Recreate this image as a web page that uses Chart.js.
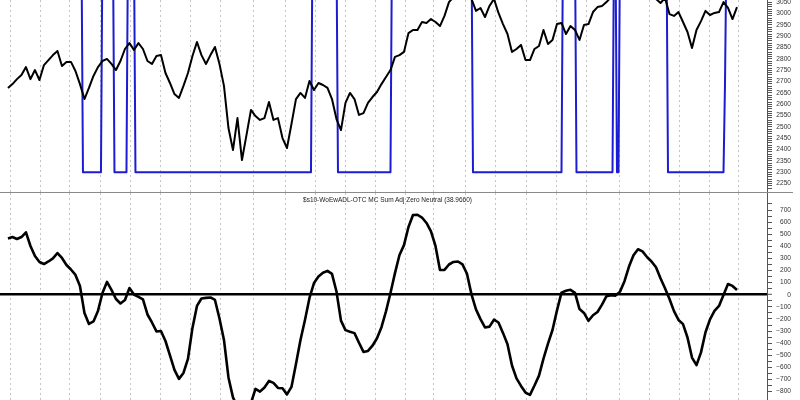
<!DOCTYPE html>
<html>
<head>
<meta charset="utf-8">
<script src="https://cdn.jsdelivr.net/npm/chart.js@4.4.1/dist/chart.umd.min.js"></script>
<style>
  body { margin: 0; background: #fff; }
  #wrap { position: relative; width: 800px; height: 400px; overflow: hidden; }
  #top { position: absolute; left: 0; top: 0; }
  #sep { position: absolute; left: 0; top: 192px; width: 793px; height: 1px; background: #8a8a8a; }
  #bot { position: absolute; left: 0; top: 193px; }
  #osc-title {
    position: absolute; left: 4px; top: 196px; width: 767px; text-align: center;
    font: 6.5px/7px "Liberation Sans", Arial, sans-serif; color: #222; white-space: nowrap;
  }
</style>
</head>
<body>
<div id="wrap">
  <canvas id="top" width="800" height="192"></canvas>
  <div id="sep"></div>
  <canvas id="bot" width="800" height="207"></canvas>
  <div id="osc-title">$s10-WoEwADL-OTC MC Sum Adj Zero Neutral (38.9660)</div>
</div>
<script>
// index close, sampled every 3 trading days
const price = [
  2672, 2689, 2711, 2729, 2764, 2711, 2751, 2707, 2773, 2795,
  2817, 2835, 2769, 2787, 2787, 2747, 2689, 2623, 2672, 2725,
  2764, 2791, 2800, 2778, 2751, 2791, 2844, 2870, 2840, 2870,
  2844, 2791, 2778, 2813, 2817, 2738, 2694, 2645, 2628, 2681,
  2738, 2813, 2875, 2817, 2778, 2817, 2853, 2778, 2681, 2495,
  2398, 2539, 2354, 2464, 2575, 2548, 2531, 2539, 2610, 2531,
  2539, 2451, 2407, 2513, 2623, 2650, 2628, 2703, 2663, 2694,
  2685, 2672, 2623, 2535, 2486, 2606, 2650, 2623, 2553, 2561,
  2606, 2632, 2654, 2689, 2720, 2751, 2809, 2817, 2831, 2914,
  2928, 2928, 2963, 2959, 2976, 2963, 2945, 2990, 3051, 3073,
  3087, 3095, 3087, 3065, 3012, 3025, 2985, 3034, 3065, 3003,
  2954, 2910, 2831, 2844, 2862, 2795, 2795, 2844, 2857, 2928,
  2866, 2884, 2954, 2959, 2910, 2945, 2928, 2884, 2950, 2954,
  3007, 3029, 3034, 3051, 3073, 3087, 3100, 3113, 3104, 3122,
  3113, 3100, 3091, 3078, 3065, 3047, 3069, 2998, 2990, 3007,
  2963, 2919, 2848, 2928, 2967, 3012, 2994, 3003, 3007, 3051,
  3025, 2976, 3029
];

// $s10-WoEwADL-OTC MC Sum Adj Zero Neutral
const osc = [
  465, 477, 461, 477, 516, 403, 320, 271, 254, 275,
  300, 345, 304, 246, 209, 164, 73, -150, -241, -220,
  -134, 15, 106, 40, -35, -72, -43, 56, 2, -18,
  -39, -163, -229, -303, -299, -382, -501, -621, -695, -646,
  -530, -274, -92, -31, -26, -22, -43, -196, -373, -683,
  -848, -927, -993, -984, -894, -778, -800, -766, -712, -728,
  -770, -772, -823, -761, -571, -373, -208, -26, 97, 151,
  182, 197, 172, 27, -214, -292, -305, -317, -396, -472,
  -464, -421, -359, -268, -137, 15, 179, 329, 410, 560,
  659, 661, 638, 593, 524, 403, 205, 205, 250, 271,
  275, 251, 174, 3, -121, -201, -270, -263, -206, -229,
  -315, -408, -584, -691, -753, -808, -827, -750, -668, -528,
  -403, -291, -129, 18, 33, 41, 16, -118, -150, -215,
  -169, -142, -82, -12, -3, -7, 26, 112, 233, 327,
  376, 358, 312, 275, 227, 136, 54, -35, -135, -208,
  -243, -353, -519, -581, -476, -310, -203, -134, -92, -2,
  89, 73, 39
];

const days = price.map((_, i) => i * 3);

// signal: switches between "in" (off the top) and 2300
const signalDays   = [0, 49, 50, 62, 63, 70, 71, 79, 80, 84, 85, 202, 203, 219, 220, 255, 256,
                      309, 310, 369, 370, 378, 379, 403, 404, 405, 406, 407, 408, 439, 440,
                      477, 478, 479, 486];
const signalLevels = [3300, 3300, 2300, 2300, 3300, 3300, 2300, 2300, 3300, 3300, 2300, 2300, 3300, 3300, 2300, 2300, 3300,
                      3300, 2300, 2300, 3300, 3300, 2300, 2300, 3300, 3300, 2300, 2300, 3300, 3300, 2300,
                      2300, 2690, 3300, 3300];

// first trading day of each month
const monthStarts = [2, 22, 41, 62, 82, 102, 122, 142, 164, 185, 205, 225, 245, 265,
                     284, 305, 325, 346, 366, 386, 408, 428, 448, 468, 487];

const priceRange = [2212.9, 3060.15];
const oscRange = [-869.4, 840.7];

const FONT = { family: '"Liberation Sans", Arial, sans-serif', size: 6.6 };
const pts = (xs, ys) => xs.map((x, i) => ({ x: x, y: ys[i] }));
const fmt = v => (v < 0 ? '\u2212' + Math.abs(v) : String(v));

function xAxis() {
  return {
    type: 'linear', min: -5.3, max: 506,
    afterBuildTicks: s => { s.ticks = monthStarts.map(v => ({ value: v })); },
    afterFit: s => { s.height = 0; s.paddingLeft = 0; s.paddingRight = 0; },
    ticks: { display: false },
    grid: { color: '#c4c4c4', lineWidth: 1, drawTicks: false },
    border: { display: false, dash: [2, 3] }
  };
}

function yAxis(range, step, labelFn, zeroLine) {
  return {
    type: 'linear', position: 'right', min: range[0], max: range[1],
    afterBuildTicks: s => { s.ticks = s.ticks.filter(t => Math.abs(t.value / step - Math.round(t.value / step)) < 1e-6); },
    afterFit: s => { s.width = 24; s.paddingTop = 0; s.paddingBottom = 0; },
    ticks: {
      stepSize: step, autoSkip: false, crossAlign: 'far', padding: 3,
      color: '#333', font: FONT, callback: labelFn
    },
    grid: {
      drawOnChartArea: zeroLine,
      color: c => (zeroLine && c.tick && c.tick.value === 0 ? '#000' : (zeroLine ? 'rgba(0,0,0,0)' : '#555')),
      lineWidth: c => (c.tick && c.tick.value === 0 ? 2.6 : 1),
      tickColor: '#555', tickWidth: 1, tickLength: 5
    },
    border: { display: true, color: '#555', width: 1 }
  };
}

const common = {
  responsive: false, animation: false,
  layout: { padding: { left: 0, right: 9, top: 0, bottom: 0 } },
  plugins: { legend: { display: false }, tooltip: { enabled: false } },
  elements: { point: { radius: 0 }, line: { tension: 0, borderJoinStyle: 'round' } }
};

new Chart(document.getElementById('top'), {
  type: 'line',
  data: {
    datasets: [
      { data: pts(days, price), borderColor: '#000', borderWidth: 2 },
      { data: pts(signalDays, signalLevels), borderColor: '#1c1cd2', borderWidth: 2 }
    ]
  },
  options: Object.assign({}, common, {
    scales: {
      x: xAxis(),
      y: yAxis(priceRange, 10, v => (v % 50 === 0 ? String(v) : ''), false)
    }
  })
});

new Chart(document.getElementById('bot'), {
  type: 'line',
  data: {
    datasets: [
      { data: pts(days, osc), borderColor: '#000', borderWidth: 2.6 }
    ]
  },
  options: Object.assign({}, common, {
    scales: {
      x: xAxis(),
      y: yAxis(oscRange, 50, v => (v % 100 === 0 && v <= 700 ? fmt(v) : ''), true)
    }
  })
});
</script>
</body>
</html>
